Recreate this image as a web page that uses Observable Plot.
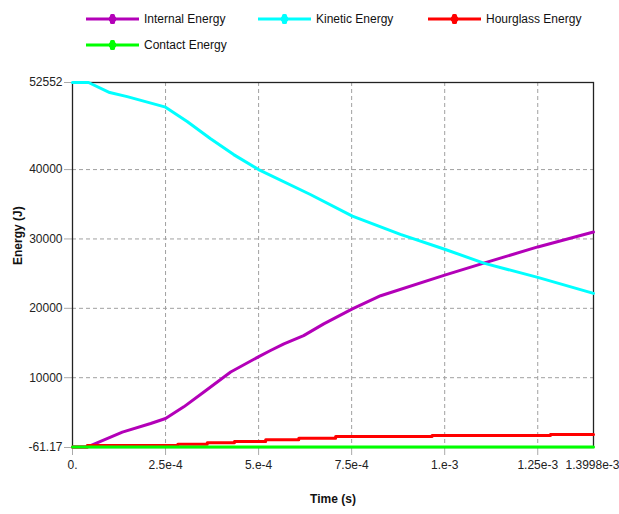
<!DOCTYPE html>
<html>
<head>
<meta charset="utf-8">
<script src="https://cdn.jsdelivr.net/npm/d3@7"></script>
<script src="https://cdn.jsdelivr.net/npm/@observablehq/plot@0.6"></script>
<style>
  html, body { margin: 0; padding: 0; background: #fff; }
  #wrap { position: relative; width: 619px; height: 514px; font-family: "Liberation Sans", Arial, sans-serif; }
  #legend { position: absolute; left: 0; top: 0; width: 619px; height: 62px; }
  .item { position: absolute; height: 16px; display: flex; align-items: center; font-size: 12px; color: #111; }
  .item svg { margin-right: 5px; }
  #chart { position: absolute; left: 0; top: 62px; }
</style>
</head>
<body>
<div id="wrap">
  <div id="legend"></div>
  <div id="chart"></div>
</div>
<script>
// ---- data ----
const seriesNames = ["Internal Energy", "Kinetic Energy", "Hourglass Energy", "Contact Energy"];
const seriesColors = ["#b300b8", "#00ffff", "#ff0000", "#00ff00"];

const internalTime = [0, 3.9e-5, 1.34e-4, 2.10e-4, 2.5e-4, 2.99e-4, 3.53e-4, 4.25e-4, 4.98e-4, 5.32e-4, 5.68e-4, 6.21e-4, 6.75e-4, 7.52e-4, 8.28e-4, 1.0e-3, 1.105e-3, 1.25e-3, 1.3998e-3];
const internalEnergy = [0, 0, 2150, 3400, 4120, 5800, 7950, 10820, 12970, 13920, 14880, 16070, 17760, 19910, 21820, 24790, 26510, 28850, 31000];

const kineticTime = [0, 4.3e-5, 1.0e-4, 1.47e-4, 2.5e-4, 3.08e-4, 3.71e-4, 4.33e-4, 5.0e-4, 6.39e-4, 7.52e-4, 8.81e-4, 1.0e-3, 1.105e-3, 1.25e-3, 1.3998e-3];
const kineticEnergy = [52552, 52552, 51100, 50520, 49000, 46940, 44450, 42160, 40000, 36410, 33300, 30670, 28520, 26510, 24460, 22160];

const hourglassTime = [0, 3.95e-5, 2.83e-4, 3.62e-4, 4.35e-4, 5.19e-4, 6.08e-4, 7.07e-4, 9.66e-4, 1.284e-3, 1.3998e-3];
const hourglassEnergy = [0, 240, 390, 620, 820, 1050, 1290, 1540, 1680, 1820, 1820];

const contactTime = [0, 1.3998e-3];
const contactEnergy = [0, 0];

const xTicks = [0, 2.5e-4, 5e-4, 7.5e-4, 1e-3, 1.25e-3, 1.3998e-3];
const xTickLabels = ["0.", "2.5e-4", "5.e-4", "7.5e-4", "1.e-3", "1.25e-3", "1.3998e-3"];
const yTicks = [-61.17, 10000, 20000, 30000, 40000, 52552];
const yTickLabels = ["-61.17", "10000", "20000", "30000", "40000", "52552"];

// ---- build tables ----
const toRows = (ts, vs) => ts.map((t, i) => ({t, v: vs[i]}));
const internalRows = toRows(internalTime, internalEnergy);
const kineticRows = toRows(kineticTime, kineticEnergy);
const hourglassRows = toRows(hourglassTime, hourglassEnergy);
const contactRows = toRows(contactTime, contactEnergy);

const xLabelMap = new Map(xTicks.map((d, i) => [d, xTickLabels[i]]));
const yLabelMap = new Map(yTicks.map((d, i) => [d, yTickLabels[i]]));

// ---- legend ----
const legendPos = [[86, 11], [258, 11], [428, 11], [86, 37]];
const legend = document.getElementById("legend");
seriesNames.forEach((name, i) => {
  const div = document.createElement("div");
  div.className = "item";
  div.style.left = legendPos[i][0] + "px";
  div.style.top = legendPos[i][1] + "px";
  const c = seriesColors[i];
  div.innerHTML = `<svg width="53" height="16"><line x1="0" y1="8" x2="53" y2="8" stroke="${c}" stroke-width="3"/>` +
    `<rect x="24" y="3" width="5" height="10" rx="1.5" fill="${c}"/><rect x="23" y="5.5" width="7" height="5" rx="1" fill="${c}"/></svg>` +
    `<span>${name}</span>`;
  legend.appendChild(div);
});

// ---- chart ----
const lw = 3;
const gridStyle = {stroke: "#a0a0a0", strokeOpacity: 1, strokeDasharray: "4,3"};
const chart = Plot.plot({
  width: 619,
  height: 452,
  marginTop: 20,
  marginLeft: 72,
  marginRight: 26,
  marginBottom: 67,
  style: {fontFamily: "Liberation Sans, Arial, sans-serif", fontSize: "12px", background: "#fff", color: "#222"},
  x: {domain: [0, 1.3998e-3]},
  y: {domain: [-61.17, 52552]},
  marks: [
    Plot.gridX(xTicks.slice(1, -1), gridStyle),
    Plot.gridY(yTicks.slice(1, -1), gridStyle),
    Plot.axisX(xTicks.slice(0, -1), {tickFormat: d => xLabelMap.get(d), tickSize: 8, tickPadding: 5, stroke: "#aaa", fill: "#222", label: null}),
    Plot.axisX(xTicks.slice(-1), {tickFormat: d => xLabelMap.get(d), tickSize: 8, tickPadding: 5, stroke: "#aaa", fill: "#222", label: null, textAnchor: "end", dx: 26}),
    Plot.axisY(yTicks, {tickFormat: d => yLabelMap.get(d), tickSize: 8, tickPadding: 2, stroke: "#aaa", fill: "#222", label: null}),
    Plot.frame({stroke: "#222", strokeWidth: 1.3}),
    Plot.line(internalRows, {x: "t", y: "v", stroke: seriesColors[0], strokeWidth: lw}),
    Plot.line(kineticRows, {x: "t", y: "v", stroke: seriesColors[1], strokeWidth: lw}),
    Plot.line(hourglassRows, {x: "t", y: "v", stroke: seriesColors[2], strokeWidth: lw, curve: "step-after"}),
    Plot.line(contactRows, {x: "t", y: "v", stroke: seriesColors[3], strokeWidth: lw}),
    Plot.text(["Time (s)"], {frameAnchor: "bottom", dy: 55, fontWeight: "bold", fontSize: 12, fill: "#111"}),
    Plot.text(["Energy (J)"], {frameAnchor: "left", dx: -54, rotate: -90, fontWeight: "bold", fontSize: 12, fill: "#111"})
  ]
});
document.getElementById("chart").appendChild(chart);
</script>
</body>
</html>
